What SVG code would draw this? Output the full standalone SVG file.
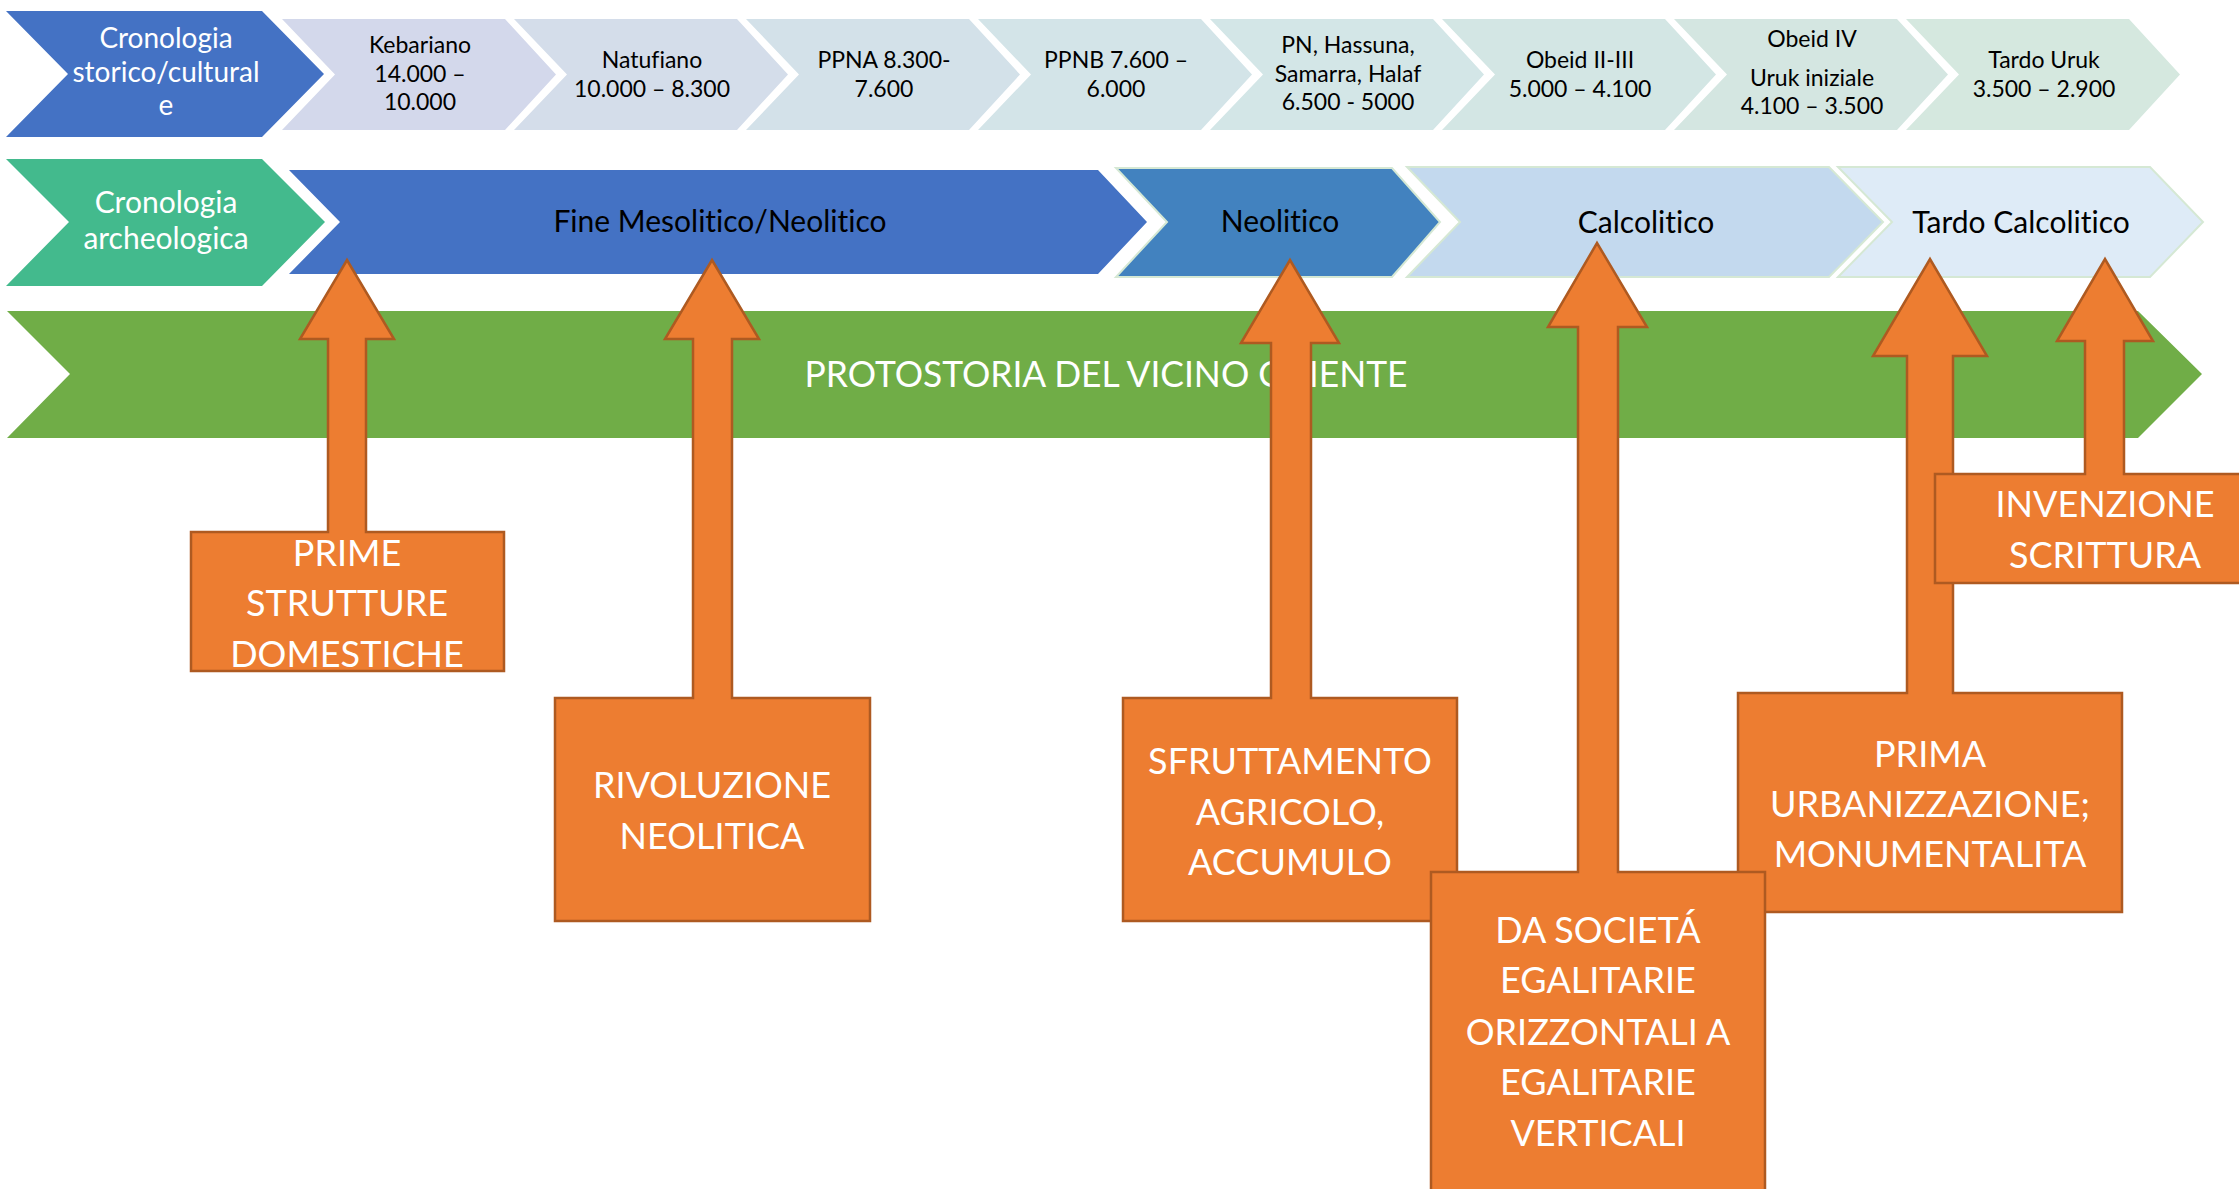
<svg xmlns="http://www.w3.org/2000/svg" width="2239" height="1189" viewBox="0 0 2239 1189">
<style>
text{font-family:Lato,"Open Sans","Liberation Sans",sans-serif;text-anchor:middle;font-variant-ligatures:none;font-feature-settings:"liga" 0,"clig" 0}
.tt{font-size:23px;fill:#000}
.tw{font-size:28px;fill:#fff}
.t2{font-size:30px;fill:#000}
.tb{font-size:36px;fill:#fff}
.co{fill:#ED7D31;stroke:#AE5A21;stroke-width:2.5;stroke-linejoin:miter}
.r2{stroke:#D5E8D4;stroke-width:2}
</style>
<rect width="2239" height="1189" fill="#fff"/>

<!-- Row 1 -->
<g id="n-storico">
<polygon points="6,11 262,11 324,74 262,137 6,137 68,74" fill="#4472C4"/>
<text class="tw" x="166" y="48">Cronologia</text>
<text class="tw" x="166" y="82">storico/cultural</text>
<text class="tw" x="166" y="115">e</text>
</g>
<g id="n-kebariano">
<polygon points="282,19 505,19 556,74.5 505,130 282,130 335,74.5" fill="#D3D8EB"/>
<text class="tt" x="420" y="53">Kebariano</text>
<text class="tt" x="420" y="82">14.000 –</text>
<text class="tt" x="420" y="110">10.000</text>
</g>
<g id="n-natufiano">
<polygon points="514,19 737,19 788,74.5 737,130 514,130 567,74.5" fill="#D4DDEA"/>
<text class="tt" x="652" y="68">Natufiano</text>
<text class="tt" x="652" y="97">10.000 – 8.300</text>
</g>
<g id="n-ppna">
<polygon points="746,19 969,19 1020,74.5 969,130 746,130 799,74.5" fill="#D3E1E9"/>
<text class="tt" x="884" y="68">PPNA 8.300-</text>
<text class="tt" x="884" y="97">7.600</text>
</g>
<g id="n-ppnb">
<polygon points="978,19 1201,19 1252,74.5 1201,130 978,130 1031,74.5" fill="#D3E4E8"/>
<text class="tt" x="1116" y="68">PPNB 7.600 –</text>
<text class="tt" x="1116" y="97">6.000</text>
</g>
<g id="n-pn">
<polygon points="1210,19 1433,19 1484,74.5 1433,130 1210,130 1263,74.5" fill="#D3E6E7"/>
<text class="tt" x="1348" y="53">PN, Hassuna,</text>
<text class="tt" x="1348" y="82">Samarra, Halaf</text>
<text class="tt" x="1348" y="110">6.500 - 5000</text>
</g>
<g id="n-obeid23">
<polygon points="1442,19 1665,19 1716,74.5 1665,130 1442,130 1495,74.5" fill="#D3E6E4"/>
<text class="tt" x="1580" y="68">Obeid II-III</text>
<text class="tt" x="1580" y="97">5.000 – 4.100</text>
</g>
<g id="n-obeid4">
<polygon points="1674,19 1897,19 1948,74.5 1897,130 1674,130 1727,74.5" fill="#D4E6E1"/>
<text class="tt" x="1812" y="47">Obeid IV</text>
<text class="tt" x="1812" y="86">Uruk iniziale</text>
<text class="tt" x="1812" y="114">4.100 – 3.500</text>
</g>
<g id="n-tardouruk">
<polygon points="1906,19 2129,19 2180,74.5 2129,130 1906,130 1959,74.5" fill="#D5E8DF"/>
<text class="tt" x="2044" y="68">Tardo Uruk</text>
<text class="tt" x="2044" y="97">3.500 – 2.900</text>
</g>

<!-- Row 2 -->
<g id="n-archeo">
<polygon points="6,159 262,159 325,222 262,286 6,286 69,222" fill="#43BA8D"/>
<text class="tw" x="166" y="213" style="font-size:30px">Cronologia</text>
<text class="tw" x="166" y="249" style="font-size:30px">archeologica</text>
</g>
<g id="n-finemeso">
<polygon points="289,170 1098,170 1147,222 1098,274 289,274 340,222" fill="#4472C4"/>
<text class="t2" x="720" y="232">Fine Mesolitico/Neolitico</text>
</g>
<g id="n-neolitico">
<polygon class="r2" points="1116,168 1392,168 1440,222 1392,277 1116,277 1167,222" fill="#4282BF"/>
<text class="t2" x="1280" y="232">Neolitico</text>
</g>
<g id="n-calcolitico">
<polygon class="r2" points="1407,167 1829,167 1883,222 1829,277 1407,277 1460,222" fill="#C3D9EE"/>
<text class="t2" x="1646" y="233">Calcolitico</text>
</g>
<g id="n-tardocalco">
<polygon class="r2" points="1838,167 2150,167 2203,222 2150,277 1838,277 1892,222" fill="#DEEBF7"/>
<text class="t2" x="2021" y="233">Tardo Calcolitico</text>
</g>

<!-- Row 3 band -->
<g id="n-protostoria">
<polygon points="7,311 2138,311 2202,374 2138,438 7,438 70,374" fill="#70AD47"/>
<text class="tb" x="1106" y="387" textLength="603" lengthAdjust="spacingAndGlyphs">PROTOSTORIA DEL VICINO ORIENTE</text>
</g>

<!-- Callouts -->
<g id="connectors">
<path class="co" d="M191,532 H328 V339 H300 L347,260 L394,339 H366 V532 H504 V671 H191 Z"/>
<path class="co" d="M555,698 H693 V339 H665 L712,260 L759,339 H732 V698 H870 V921 H555 Z"/>
<path class="co" d="M1123,698 H1271 V343 H1241 L1290,260 L1339,343 H1311 V698 H1457 V921 H1123 Z"/>
<path class="co" d="M1738,693 H1907 V356 H1873 L1930,259 L1987,356 H1953 V693 H2122 V912 H1738 Z"/>
<path class="co" d="M1935,474 H2085 V341 H2057 L2105,259 L2153,341 H2124 V474 H2290 V583 H1935 Z"/>
<path class="co" d="M1431,872 H1578 V327 H1548 L1597,243 L1647,327 H1618 V872 H1765 V1200 H1431 Z"/>
</g>

<g id="n-prime">
<text class="tb" x="347" y="566">PRIME</text>
<text class="tb" x="347" y="616">STRUTTURE</text>
<text class="tb" x="347" y="667">DOMESTICHE</text>
</g>
<g id="n-rivoluzione">
<text class="tb" x="712" y="798">RIVOLUZIONE</text>
<text class="tb" x="712" y="849">NEOLITICA</text>
</g>
<g id="n-sfruttamento">
<text class="tb" x="1290" y="774">SFRUTTAMENTO</text>
<text class="tb" x="1290" y="825">AGRICOLO,</text>
<text class="tb" x="1290" y="875">ACCUMULO</text>
</g>
<g id="n-prima">
<text class="tb" x="1930" y="767">PRIMA</text>
<text class="tb" x="1930" y="817">URBANIZZAZIONE;</text>
<text class="tb" x="1930" y="867">MONUMENTALITA</text>
</g>
<g id="n-invenzione">
<text class="tb" x="2105" y="517">INVENZIONE</text>
<text class="tb" x="2105" y="568">SCRITTURA</text>
</g>
<g id="n-societa">
<text class="tb" x="1598" y="943">DA SOCIETÁ</text>
<text class="tb" x="1598" y="993">EGALITARIE</text>
<text class="tb" x="1598" y="1045">ORIZZONTALI A</text>
<text class="tb" x="1598" y="1095">EGALITARIE</text>
<text class="tb" x="1598" y="1146">VERTICALI</text>
</g>
</svg>
